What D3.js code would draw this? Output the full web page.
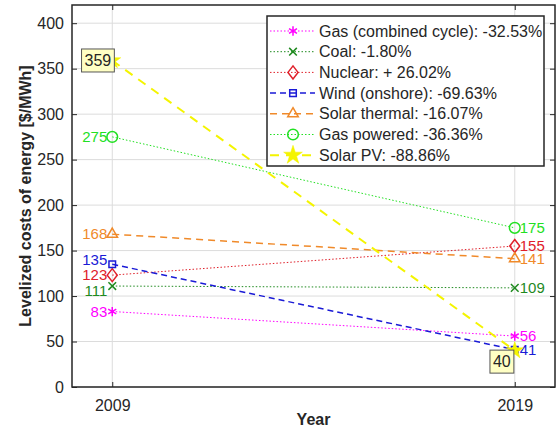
<!DOCTYPE html>
<html>
<head>
<meta charset="utf-8">
<script src="https://cdn.jsdelivr.net/npm/d3@7"></script>
<style>
  html, body { margin: 0; padding: 0; background: #fff; }
  svg { display: block; font-family: "Liberation Sans", Arial, sans-serif; }
</style>
</head>
<body>
<div id="chart"></div>
<script>
// Levelized cost of energy, 2009 vs 2019
const years = [2009, 2019];
const seriesNames = ['Gas (combined cycle)', 'Coal', 'Nuclear', 'Wind (onshore)', 'Solar thermal', 'Gas powered', 'Solar PV'];
const changeLabels = ['-32.53%', '-1.80%', '+ 26.02%', '-69.63%', '-16.07%', '-36.36%', '-88.86%'];
const cost2009 = [83, 111, 123, 135, 168, 275, 359];
const cost2019 = [56, 109, 155, 41, 141, 175, 40];
const yTicks = [0, 50, 100, 150, 200, 250, 300, 350, 400];

const colors  = ['#ff00ff', '#1f8a1f', '#e0202a', '#1a1ad6', '#f08a2a', '#22e022', '#f4f400'];
const dashes  = ['1.5,2', '1.5,2', '1.5,2', '6,4', '7,5', '1.5,2', '9,7'];
const widths  = [1, 1, 1, 1.5, 1.5, 1, 2];
const markers = ['asterisk', 'times', 'diamond', 'square', 'triangle', 'circle', 'star'];

const W = 560, H = 440;
const M = { top: 5, right: 5, bottom: 53, left: 72 };
const iw = W - M.left - M.right, ih = H - M.top - M.bottom;

const x = d3.scaleLinear().domain([2008, 2020]).range([0, iw]);
const y = d3.scaleLinear().domain([0, 420]).range([ih, 0]);

const svg = d3.select('#chart').append('svg').attr('width', W).attr('height', H);
const g = svg.append('g').attr('transform', `translate(${M.left},${M.top})`);

// grid
g.append('g').selectAll('line').data(yTicks).join('line')
  .attr('x1', 0).attr('x2', iw).attr('y1', d => y(d)).attr('y2', d => y(d))
  .attr('stroke', '#dcdcdc').attr('stroke-width', 1);
g.append('g').selectAll('line').data(years).join('line')
  .attr('x1', d => x(d)).attr('x2', d => x(d)).attr('y1', 0).attr('y2', ih)
  .attr('stroke', '#dcdcdc').attr('stroke-width', 1);

function markerPath(kind) {
  switch (kind) {
    case 'asterisk': return d3.symbol(d3.symbolAsterisk, 60)();
    case 'times':    return d3.symbol(d3.symbolTimes, 40)();
    case 'square':   return d3.symbol(d3.symbolSquare2, 55)();
    case 'triangle': return d3.symbol(d3.symbolTriangle2, 80)();
    case 'circle':   return d3.symbol(d3.symbolCircle, 90)();
    case 'star':     return d3.symbol(d3.symbolStar, 90)();
    case 'diamond':  return 'M0,-6.5L5,0L0,6.5L-5,0Z';
  }
}

function drawMarker(sel, i, cx, cy, scale) {
  const isStar = markers[i] === 'star';
  sel.append('path')
    .attr('d', markerPath(markers[i]))
    .attr('transform', `translate(${cx},${cy}) scale(${scale || 1})`)
    .attr('fill', isStar ? colors[i] : 'none')
    .attr('stroke', colors[i])
    .attr('stroke-width', isStar ? 0.5 : 1.5);
}

// series
const labelNudge2009 = { 3: -4, 1: 5 };
seriesNames.forEach((name, i) => {
  const pts = [[years[0], cost2009[i]], [years[1], cost2019[i]]];
  g.append('path')
    .datum(pts)
    .attr('d', d3.line().x(d => x(d[0])).y(d => y(d[1])))
    .attr('fill', 'none')
    .attr('stroke', colors[i])
    .attr('stroke-width', widths[i])
    .attr('stroke-dasharray', dashes[i]);
  pts.forEach(p => drawMarker(g, i, x(p[0]), y(p[1])));

  if (markers[i] === 'star') return;
  g.append('text')
    .attr('x', x(years[0]) - 5)
    .attr('y', y(cost2009[i]) + (labelNudge2009[i] || 0))
    .attr('dy', '0.35em')
    .attr('text-anchor', 'end')
    .attr('font-size', 15)
    .attr('fill', colors[i])
    .text(cost2009[i]);
  g.append('text')
    .attr('x', x(years[1]) + 5)
    .attr('y', y(cost2019[i]))
    .attr('dy', '0.35em')
    .attr('font-size', 15)
    .attr('fill', colors[i])
    .text(cost2019[i]);
});

// boxed Solar PV labels
const pv = seriesNames.length - 1;
function boxLabel(value, rx, cy) {
  const t = g.append('text')
    .attr('x', rx - 4).attr('y', cy).attr('dy', '0.35em')
    .attr('text-anchor', 'end').attr('font-size', 16).attr('fill', '#262626')
    .text(value);
  const bb = t.node().getBBox();
  g.insert('rect', () => t.node())
    .attr('x', bb.x - 3).attr('y', cy - 11.5)
    .attr('width', bb.width + 6).attr('height', 23)
    .attr('fill', '#ffffc4').attr('stroke', '#555').attr('stroke-width', 1);
}
boxLabel(cost2009[pv], x(years[0]) + 3, y(cost2009[pv]));
boxLabel(cost2019[pv], x(years[1]), y(cost2019[pv]) + 11);

// axes
const axisColor = '#262626';
function styleAxis(a) {
  a.select('.domain').remove();
  a.selectAll('line').attr('stroke', axisColor);
  a.selectAll('text').attr('fill', axisColor).attr('font-size', 16).attr('font-family', '"Liberation Sans", Arial, sans-serif');
}
g.append('g').call(d3.axisLeft(y).tickValues(yTicks).tickSize(-5).tickPadding(8)).call(styleAxis);
g.append('g').attr('transform', `translate(${iw},0)`)
  .call(d3.axisRight(y).tickValues(yTicks).tickSize(-5).tickFormat('')).call(styleAxis);
g.append('g').attr('transform', `translate(0,${ih})`)
  .call(d3.axisBottom(x).tickValues(years).tickSize(-5).tickPadding(13).tickFormat(d3.format('d'))).call(styleAxis);
g.append('g')
  .call(d3.axisTop(x).tickValues(years).tickSize(-5).tickFormat('')).call(styleAxis);
g.append('rect').attr('width', iw).attr('height', ih)
  .attr('fill', 'none').attr('stroke', axisColor).attr('stroke-width', 1.5);

// axis titles
svg.append('text')
  .attr('x', M.left + x(2014)).attr('y', 425)
  .attr('text-anchor', 'middle').attr('font-size', 16).attr('font-weight', 'bold').attr('fill', axisColor)
  .text('Year');
svg.append('text')
  .attr('transform', `translate(31,${M.top + ih / 2}) rotate(-90)`)
  .attr('text-anchor', 'middle').attr('font-size', 16).attr('font-weight', 'bold').attr('fill', axisColor)
  .text('Levelized costs of energy [$/MWh]');

// legend
const lg = svg.append('g').attr('transform', 'translate(267,16)');
const rowH = 20.7;
lg.append('rect').attr('width', 277).attr('height', 150)
  .attr('fill', '#fff').attr('stroke', axisColor).attr('stroke-width', 1.5);
seriesNames.forEach((name, i) => {
  const cy = 15 + i * rowH;
  lg.append('line')
    .attr('x1', 3).attr('x2', 48).attr('y1', cy).attr('y2', cy)
    .attr('stroke', colors[i]).attr('stroke-width', widths[i])
    .attr('stroke-dasharray', dashes[i]);
  drawMarker(lg, i, 26, cy, markers[i] === 'star' ? 1.1 : 1);
  lg.append('text')
    .attr('x', 52).attr('y', cy).attr('dy', '0.35em')
    .attr('font-size', 16).attr('fill', axisColor)
    .text(`${name}: ${changeLabels[i]}`);
});
</script>
</body>
</html>
